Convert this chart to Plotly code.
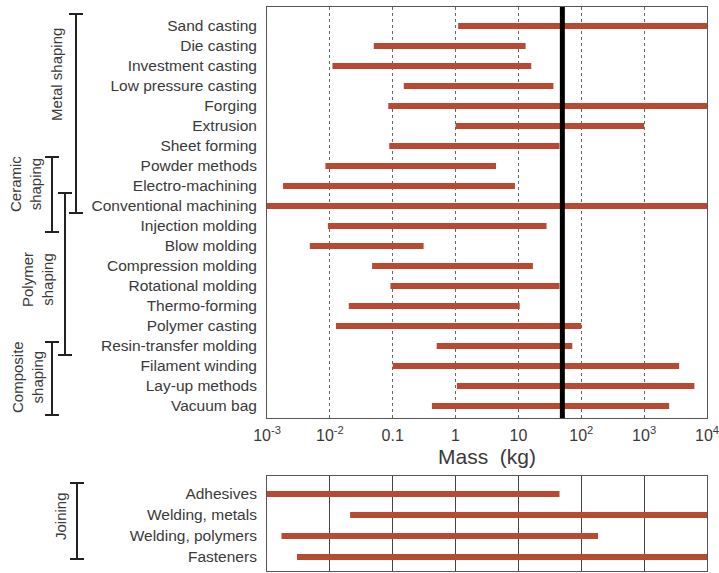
import plotly.graph_objects as go

# Shaping processes (top panel), listed top to bottom
processes = [
    "Sand casting", "Die casting", "Investment casting", "Low pressure casting",
    "Forging", "Extrusion", "Sheet forming", "Powder methods", "Electro-machining",
    "Conventional machining", "Injection molding", "Blow molding",
    "Compression molding", "Rotational molding", "Thermo-forming",
    "Polymer casting", "Resin-transfer molding", "Filament winding",
    "Lay-up methods", "Vacuum bag",
]
mass_min = [1.1, 0.05, 0.011, 0.15, 0.085, 1.0, 0.088, 0.0085, 0.0018, 0.001,
            0.0093, 0.0048, 0.047, 0.092, 0.02, 0.0125, 0.5, 0.1, 1.05, 0.42]
mass_max = [10000, 13, 16, 36, 10000, 1000, 45, 4.4, 8.8, 10000,
            28, 0.31, 17, 45, 10.5, 100, 72, 3600, 6300, 2500]

# Joining processes (bottom panel)
joining = ["Adhesives", "Welding, metals", "Welding, polymers", "Fasteners"]
join_min = [0.001, 0.021, 0.0017, 0.003]
join_max = [45, 10000, 185, 10000]

# Reference mass marked by the heavy vertical line (kg)
marker_mass = 50

tick_vals = [1e-3, 1e-2, 0.1, 1, 10, 100, 1000, 10000]
tick_text = ["10<sup>-3</sup>", "10<sup>-2</sup>", "0.1", "1", "10",
             "10<sup>2</sup>", "10<sup>3</sup>", "10<sup>4</sup>"]

W, H = 719, 573
BAR = "#b84a33"
TXT = "#3a3a3a"
FONT = "Liberation Sans, Arial, sans-serif"


def px(x):
    return x / W


def py(y):
    return 1 - y / H


def segments(lo, hi):
    xs, ys = [], []
    for i, (a, b) in enumerate(zip(lo, hi)):
        xs += [a, b, None]
        ys += [i, i, None]
    return xs, ys


fig = go.Figure()

xs, ys = segments(mass_min, mass_max)
fig.add_trace(go.Scatter(x=xs, y=ys, mode="lines", xaxis="x", yaxis="y",
                         line=dict(color=BAR, width=6), hoverinfo="skip"))
fig.add_trace(go.Scatter(x=[marker_mass, marker_mass], y=[-1.2, 20.0],
                         mode="lines", xaxis="x", yaxis="y",
                         line=dict(color="black", width=5), hoverinfo="skip"))

xs2, ys2 = segments(join_min, join_max)
fig.add_trace(go.Scatter(x=xs2, y=ys2, mode="lines", xaxis="x2", yaxis="y2",
                         line=dict(color=BAR, width=6), hoverinfo="skip"))

common_x = dict(type="log", range=[-3, 4], domain=[px(267), px(707)],
                showline=True, mirror=True, linecolor="#555", linewidth=1,
                zeroline=False, tickvals=tick_vals, ticks="", automargin=False)

fig.update_layout(
    width=W, height=H,
    margin=dict(l=0, r=0, t=0, b=0),
    paper_bgcolor="white", plot_bgcolor="white",
    showlegend=False,
    font=dict(family=FONT, color=TXT),
    xaxis=dict(**common_x, anchor="y", ticktext=tick_text,
               tickfont=dict(size=16, color=TXT), ticklabelstandoff=3,
               ticklabeloverflow="allow",
               showgrid=True, gridcolor="#666", griddash="dot", gridwidth=1),
    yaxis=dict(domain=[py(418), py(7)], range=[19.6, -0.95], anchor="x",
               tickvals=list(range(len(processes))), ticktext=processes,
               tickfont=dict(size=15.5, color=TXT), ticks="", ticklabelstandoff=6,
               showgrid=False, zeroline=False, showline=True, mirror=True,
               linecolor="#555", linewidth=1, automargin=False),
    xaxis2=dict(**common_x, anchor="y2", showticklabels=False,
                showgrid=True, gridcolor="#444", gridwidth=1),
    yaxis2=dict(domain=[py(571), py(476)], range=[3.667, -0.857], anchor="x2",
                tickvals=list(range(len(joining))), ticktext=joining,
                tickfont=dict(size=15.5, color=TXT), ticks="", ticklabelstandoff=6,
                showgrid=False, zeroline=False, showline=True, mirror=True,
                linecolor="#555", linewidth=1, automargin=False),
)

# Axis title
fig.add_annotation(x=px(487), y=py(456), xref="paper", yref="paper",
                   text="Mass\u00a0\u00a0(kg)", showarrow=False,
                   font=dict(size=21, color=TXT), xanchor="center", yanchor="middle")

# Group brackets: (x, y_top, y_bottom)
brackets = [
    (76, 14, 213),
    (52, 157, 232),
    (65, 193, 355),
    (52, 342, 415),
    (77, 483, 559),
]
for bx, y0, y1 in brackets:
    fig.add_shape(type="line", xref="paper", yref="paper",
                  x0=px(bx), x1=px(bx), y0=py(y0), y1=py(y1),
                  line=dict(color="#222", width=2))
    for yy in (y0, y1):
        fig.add_shape(type="line", xref="paper", yref="paper",
                      x0=px(bx - 7), x1=px(bx + 7), y0=py(yy), y1=py(yy),
                      line=dict(color="#222", width=2))

# Group labels: (text, x_center, y_center)
groups = [
    ("Metal shaping", 57, 75),
    ("Ceramic<br>shaping", 25, 184),
    ("Polymer<br>shaping", 37, 280),
    ("Composite<br>shaping", 27, 377),
    ("Joining", 60, 516),
]
for text, gx, gy in groups:
    fig.add_annotation(x=px(gx), y=py(gy), xref="paper", yref="paper",
                       text=text, showarrow=False, textangle=-90,
                       font=dict(size=15, color=TXT),
                       xanchor="center", yanchor="middle")

fig.write_html("out.html")
